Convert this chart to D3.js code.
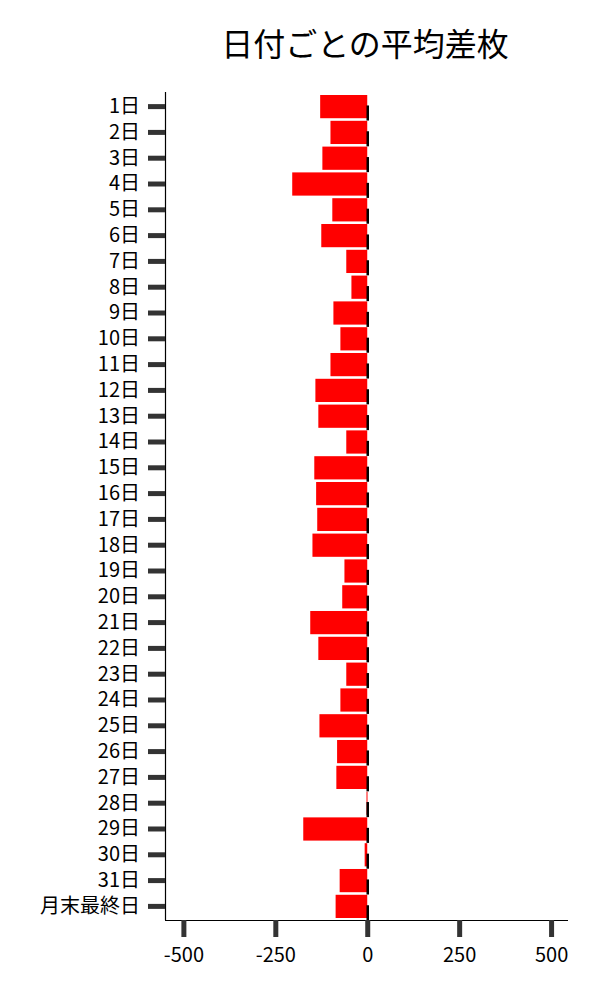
<!DOCTYPE html>
<html>
<head>
<meta charset="utf-8">
<script src="https://cdn.jsdelivr.net/npm/d3@7"></script>
<style>
  body { margin: 0; background: #fff; }
  text { font-family: "Noto Sans CJK JP", "Noto Sans", sans-serif; }
</style>
</head>
<body>
<script>
// categories and values
const days = ["1日","2日","3日","4日","5日","6日","7日","8日","9日","10日",
  "11日","12日","13日","14日","15日","16日","17日","18日","19日","20日",
  "21日","22日","23日","24日","25日","26日","27日","28日","29日","30日",
  "31日","月末最終日"];
const avgDiff = [-128, -100, -122, -204, -95, -125, -57, -43, -92, -73,
  -100, -141, -133, -57, -144, -139, -136, -149, -62, -68,
  -155, -133, -57, -73, -130, -82, -84, -2, -174, -7,
  -75, -86];
const xTicks = [-500, -250, 0, 250, 500];
const title = "日付ごとの平均差枚";

const width = 600, height = 1000;
const margin = {top: 92, right: 32, bottom: 80, left: 165};

const svg = d3.select("body").append("svg")
    .attr("width", width)
    .attr("height", height);

const x = d3.scaleLinear()
    .domain([-550, 546])
    .range([margin.left, width - margin.right]);

const y = d3.scaleBand()
    .domain(days)
    .range([95, 918])
    .paddingInner(0.1)
    .paddingOuter(0);

// bars
svg.selectAll("rect.bar")
    .data(days)
    .enter()
    .append("rect")
        .attr("class", "bar")
        .attr("x", (d, i) => x(Math.min(0, avgDiff[i])))
        .attr("y", d => y(d))
        .attr("width", (d, i) => Math.max(1, Math.abs(x(avgDiff[i]) - x(0))))
        .attr("height", y.bandwidth())
        .style("fill", "#ff0000");

// small black marks at zero
svg.selectAll("line.err")
    .data(days)
    .enter()
    .append("line")
        .attr("class", "err")
        .attr("x1", x(0) + 0.5)
        .attr("x2", x(0) + 0.5)
        .attr("y1", d => y(d) + y.bandwidth() * 0.45)
        .attr("y2", d => y(d) + y.bandwidth() * 1.1)
        .attr("stroke", "#000")
        .attr("stroke-width", 2.5);

// y axis
const gy = svg.append("g")
    .attr("transform", "translate(" + margin.left + ",0)")
    .call(d3.axisLeft(y).tickSize(17).tickSizeOuter(0).tickPadding(8));
gy.select(".domain").attr("stroke", "#000").attr("stroke-width", 1.2)
    .attr("d", "M0.5," + margin.top + "V" + (height - margin.bottom));
gy.selectAll(".tick line").attr("stroke", "#333").attr("stroke-width", 5);
gy.selectAll(".tick text").style("font-size", "20px").attr("fill", "#000");

// x axis
const gx = svg.append("g")
    .attr("transform", "translate(0," + (height - margin.bottom) + ")")
    .call(d3.axisBottom(x).tickValues(xTicks).tickFormat(d => String(d))
        .tickSize(17).tickSizeOuter(0).tickPadding(11));
gx.select(".domain").attr("stroke", "#000").attr("stroke-width", 1.2)
    .attr("d", "M" + margin.left + ",0.5H" + (width - margin.right));
gx.selectAll(".tick line").attr("stroke", "#333").attr("stroke-width", 5);
gx.selectAll(".tick text").style("font-size", "20px").attr("fill", "#000");

// title
svg.append("text")
    .attr("x", 365)
    .attr("y", 56)
    .attr("text-anchor", "middle")
    .style("font-size", "32px")
    .attr("fill", "#000")
    .text(title);
</script>
</body>
</html>
